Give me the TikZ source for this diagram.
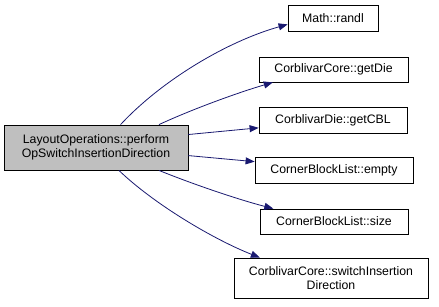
\documentclass[tikz,border=0pt]{standalone}
\usepackage{fontspec}
\setmainfont{Liberation Sans}
\usepackage{xcolor}
\usetikzlibrary{arrows.meta}

\definecolor{edgeblue}{RGB}{25,25,112}
\definecolor{callergray}{RGB}{191,191,191}

\tikzset{
  fn/.style={draw=black, fill=white, line width=0.8pt, inner sep=0pt,
    align=center, font=\fontsize{12.3}{14.5}\selectfont},
  call/.style={draw=edgeblue, line width=0.8pt,
    -{Triangle[length=9pt,width=7pt]}}
}

\begin{document}
\begin{tikzpicture}[x=1pt,y=-1pt]
  \useasboundingbox (0,0) rectangle (439,306);

  \node[fn, fill=callergray, minimum width=184pt, minimum height=45pt] (main) at (96,147.5)
    {LayoutOperations::perform\\OpSwitchInsertionDirection};

\node[fn, minimum width=90pt, minimum height=26pt] (randl) at (333,18) {Math::randl};
\node[fn, minimum width=149pt, minimum height=25pt] (getdie) at (333.5,69.5) {CorblivarCore::getDie};
\node[fn, minimum width=148pt, minimum height=26pt] (getcbl) at (333,120) {CorblivarDie::getCBL};
\node[fn, minimum width=158pt, minimum height=26pt] (empty) at (334,170) {CornerBlockList::empty};
\node[fn, minimum width=148pt, minimum height=25pt] (size) at (334,221.5) {CornerBlockList::size};
\node[fn, minimum width=194pt, minimum height=40pt] (switch) at (331,278)
    {CorblivarCore::switchInsertion\\Direction};

  % calls
  \draw[call] (main.43) .. controls (160,82) and (225,42) .. (randl.188);
  \draw[call] (main.20) .. controls (195,108) and (240,92) .. (getdie.192);
  \draw[call] (main.8) -- (getcbl.186);
  \draw[call] (main.-5) -- (empty.174);
  \draw[call] (main.-20) .. controls (195,185) and (240,200) .. (size.168);
  \draw[call] (main.-45) .. controls (155,205) and (215,240) .. (switch.164);
\end{tikzpicture}
\end{document}
